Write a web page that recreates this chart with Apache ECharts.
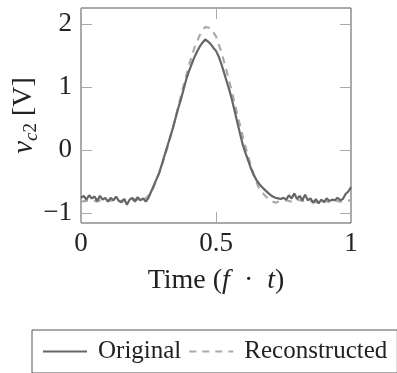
<!DOCTYPE html>
<html>
<head>
<meta charset="utf-8">
<script src="https://cdn.jsdelivr.net/npm/echarts@6/dist/echarts.min.js"></script>
<style>
html,body{margin:0;padding:0;background:#fff;}
#c{width:397px;height:373px;}
</style>
</head>
<body>
<div id="c"></div>
<script>
const seriesNames = ['Original', 'Reconstructed'];
const xTicks = [0, 0.5, 1];
const yTicks = [-1, 0, 1, 2];

const originalT = [
  0.00,0.01,0.02,0.03,0.04,0.05,0.06,0.07,0.08,0.09,
  0.10,0.11,0.12,0.13,0.14,0.15,0.16,0.17,0.18,0.19,
  0.20,0.21,0.22,0.23,0.24,0.25,0.26,0.27,0.28,0.29,
  0.30,0.31,0.32,0.33,0.34,0.35,0.36,0.37,0.38,0.39,
  0.40,0.41,0.42,0.43,0.44,0.45,0.46,0.47,0.48,0.49,
  0.50,0.51,0.52,0.53,0.54,0.55,0.56,0.57,0.58,0.59,
  0.60,0.61,0.62,0.63,0.64,0.65,0.66,0.67,0.68,0.69,
  0.70,0.71,0.72,0.73,0.74,0.75,0.76,0.77,0.78,0.79,
  0.80,0.81,0.82,0.83,0.84,0.85,0.86,0.87,0.88,0.89,
  0.90,0.91,0.92,0.93,0.94,0.95,0.96,0.97,0.98,0.99,1.00
];
const originalV = [
  -0.76,-0.73,-0.79,-0.72,-0.77,-0.74,-0.81,-0.73,-0.79,-0.76,
  -0.82,-0.76,-0.80,-0.74,-0.81,-0.83,-0.78,-0.87,-0.79,-0.76,
  -0.82,-0.75,-0.80,-0.77,-0.82,-0.76,-0.66,-0.56,-0.46,-0.36,
  -0.22,-0.08,0.06,0.20,0.34,0.50,0.66,0.80,0.96,1.12,
  1.25,1.36,1.47,1.56,1.64,1.70,1.75,1.72,1.68,1.62,
  1.57,1.48,1.36,1.22,1.08,0.94,0.78,0.60,0.42,0.24,
  0.07,-0.06,-0.18,-0.30,-0.40,-0.48,-0.54,-0.59,-0.63,-0.67,
  -0.71,-0.74,-0.76,-0.77,-0.78,-0.76,-0.79,-0.72,-0.77,-0.69,
  -0.78,-0.73,-0.80,-0.71,-0.80,-0.77,-0.84,-0.78,-0.85,-0.79,
  -0.83,-0.77,-0.81,-0.79,-0.80,-0.76,-0.80,-0.78,-0.70,-0.66,-0.59
];

const reconT = [
  0.00,0.02,0.04,0.06,0.08,0.10,0.12,0.14,0.16,0.18,
  0.20,0.22,0.24,0.26,0.28,0.30,0.32,0.34,0.36,0.38,
  0.40,0.42,0.44,0.46,0.48,0.50,0.52,0.54,0.56,0.58,
  0.60,0.62,0.64,0.66,0.68,0.70,0.72,0.74,0.76,0.78,
  0.80,0.82,0.84,0.86,0.88,0.90,0.92,0.94,0.96,0.98,1.00
];
const reconV = [
  -0.82,-0.81,-0.80,-0.82,-0.79,-0.81,-0.80,-0.82,-0.79,-0.80,
  -0.78,-0.80,-0.77,-0.68,-0.48,-0.24,0.04,0.34,0.68,1.02,
  1.34,1.62,1.82,1.95,1.93,1.80,1.55,1.24,0.90,0.54,
  0.20,-0.12,-0.40,-0.62,-0.72,-0.80,-0.84,-0.81,-0.80,-0.82,
  -0.79,-0.81,-0.80,-0.82,-0.84,-0.81,-0.83,-0.80,-0.82,-0.81,-0.80
];

const FONT = '"Liberation Serif", "DejaVu Serif", serif';
const fmt = v => (v < 0 ? '\u2212' + Math.abs(v) : String(v));

const chart = echarts.init(document.getElementById('c'), null, {renderer: 'canvas'});
const tickStyle = {show: true, inside: true, length: 11, lineStyle: {color: '#aaa', width: 1}};
const noLine = {show: false, onZero: false};

chart.setOption({
  animation: false,
  backgroundColor: '#fff',
  grid: {left: 81, right: 46, top: 8, bottom: 150, show: true, borderColor: '#555', borderWidth: 1,
         containLabel: false, outerBoundsMode: 'none'},
  legend: {
    left: 32, top: 330, width: 390,
    orient: 'horizontal',
    padding: [9, 10, 9, 10],
    borderColor: '#555', borderWidth: 1,
    itemWidth: 44, itemHeight: 14, itemGap: 7,
    itemStyle: {opacity: 0},
    textStyle: {fontFamily: FONT, fontSize: 25, color: '#222', padding: [0, 0, 0, 6]},
    data: seriesNames
  },
  xAxis: [{
    type: 'value', min: 0, max: 1, position: 'bottom',
    axisLine: noLine,
    axisTick: Object.assign({customValues: xTicks}, tickStyle),
    axisLabel: {customValues: xTicks, formatter: fmt, fontFamily: FONT, fontSize: 27, color: '#222', margin: 7},
    splitLine: {show: false},
    name: 'Time ({i|f}\u2002·\u2002{i|t})',
    nameLocation: 'middle', nameGap: 44, nameMoveOverlap: false,
    nameTextStyle: {fontFamily: FONT, fontSize: 28, color: '#222',
      rich: {i: {fontFamily: FONT, fontSize: 28, fontStyle: 'italic', color: '#222'}}}
  }, {
    type: 'value', min: 0, max: 1, position: 'top',
    axisLine: noLine,
    axisTick: Object.assign({customValues: xTicks}, tickStyle),
    axisLabel: {show: false}, splitLine: {show: false}
  }],
  yAxis: [{
    type: 'value', min: -1.16, max: 2.25, position: 'left',
    axisLine: noLine,
    axisTick: Object.assign({customValues: yTicks}, tickStyle),
    axisLabel: {customValues: yTicks, formatter: fmt, fontFamily: FONT, fontSize: 27, color: '#222', margin: 9},
    splitLine: {show: false},
    name: '{v|v}{c|c}{n|2} [V]',
    nameLocation: 'middle', nameGap: 40, nameRotate: 90, nameMoveOverlap: false,
    nameTextStyle: {fontFamily: FONT, fontSize: 28, color: '#222', lineHeight: 34,
      rich: {
        v: {fontFamily: FONT, fontSize: 29, fontStyle: 'italic', color: '#222', lineHeight: 34},
        c: {fontFamily: FONT, fontSize: 19, fontStyle: 'italic', color: '#222', verticalAlign: 'bottom', lineHeight: 18},
        n: {fontFamily: FONT, fontSize: 19, color: '#222', verticalAlign: 'bottom', lineHeight: 18}
      }}
  }, {
    type: 'value', min: -1.16, max: 2.25, position: 'right',
    axisLine: noLine,
    axisTick: Object.assign({customValues: yTicks}, tickStyle),
    axisLabel: {show: false}, splitLine: {show: false}
  }],
  series: [{
    name: seriesNames[0], type: 'line', showSymbol: false, symbol: 'none',
    data: originalT.map((t, i) => [t, originalV[i]]),
    lineStyle: {color: '#666', width: 2.2},
    itemStyle: {color: '#666'},
    z: 3
  }, {
    name: seriesNames[1], type: 'line', showSymbol: false, symbol: 'none',
    data: reconT.map((t, i) => [t, reconV[i]]),
    lineStyle: {color: '#aaa', width: 2.2, type: [7, 6]},
    itemStyle: {color: '#aaa'},
    z: 2
  }]
});
</script>
</body>
</html>
